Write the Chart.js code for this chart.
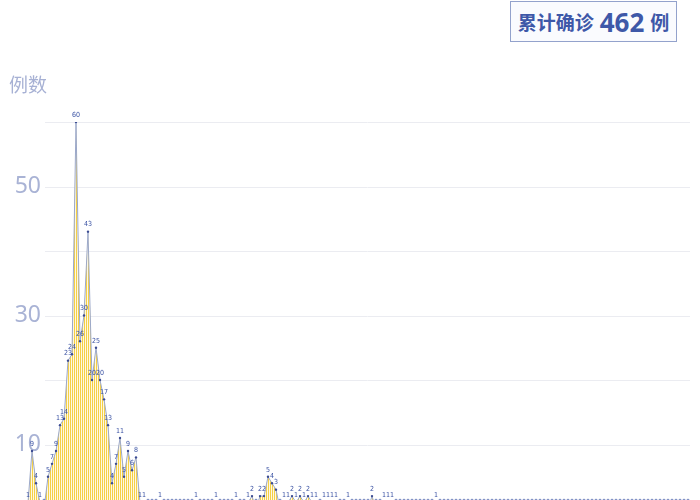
<!DOCTYPE html>
<html>
<head>
<meta charset="utf-8">
<script src="https://cdn.jsdelivr.net/npm/chart.js@4"></script>
<style>
  html, body { margin: 0; padding: 0; background: #fff; overflow: hidden; }
  #wrap { position: absolute; left: 0; top: 0; width: 700px; height: 520px; }
  #unit { position: absolute; left: 9px; top: 70px; font: 19px "Noto Sans CJK SC", sans-serif; color: #a7b1d4; }
  #total { position: absolute; left: 510px; top: 1px; width: 165px; height: 39px; border: 1.5px solid #93a2cc;
           background: #fafbfe; color: #3e58a8; font-family: "Noto Sans CJK SC", sans-serif; font-weight: bold;
           display: flex; align-items: center; justify-content: center; white-space: nowrap; }
  #total .t { font-size: 19px; }
  #total .n { font-size: 26px; margin: 0 6px 0 6px; font-family: "Noto Sans", sans-serif; font-weight: bold; }
</style>
</head>
<body>
<div id="wrap"><canvas id="chartCases"></canvas></div>
<div id="unit">例数</div>
<div id="total"><span class="t">累计确诊</span><span class="n">462</span><span class="t">例</span></div>
<script>
// daily new cases
const cases = [
  1, 9, 4, 1, 0, 5, 7, 9, 13, 14, 23, 24, 60, 26, 30, 43, 20, 25, 20, 17,
  13, 4, 7, 11, 5, 9, 6, 8, 1, 1, 0, 0, 0, 1, 0, 0, 0, 0, 0, 0,
  0, 0, 1, 0, 0, 0, 0, 1, 0, 0, 0, 0, 1, 0, 0, 1, 2, 0, 2, 2,
  5, 4, 3, 0, 1, 1, 2, 1, 2, 1, 2, 1, 1, 0, 1, 1, 1, 1, 0, 0,
  1, 0, 0, 0, 0, 0, 2, 0, 0, 1, 1, 1, 0, 0, 0, 0, 0, 0, 0, 0,
  0, 0, 1, 0, 0, 0, 0, 0, 0, 0, 0, 0, 0, 0, 0, 0, 0, 0, 0, 0,
  0, 0, 0, 0, 0, 0, 0, 0, 0, 0, 0, 0, 0, 0, 0, 0, 0, 0, 0, 0,
  0, 0, 0, 0, 0, 0, 0, 0, 0, 0, 0, 0, 0, 0, 0, 0, 0, 0, 0, 0,
  0, 0, 0, 0, 0, 0
];
const days = cases.map((v, i) => 'D' + (i + 1));
const gridValues = [10, 20, 30, 40, 50, 60];
const tickLabels = [10, 30, 50];

// striped yellow fill
const pc = document.createElement('canvas');
pc.width = 2; pc.height = 1;
const pctx = pc.getContext('2d');
pctx.fillStyle = '#f5d046'; pctx.fillRect(0, 0, 1, 1);
pctx.fillStyle = '#fef8e2'; pctx.fillRect(1, 0, 1, 1);

const ctx = document.getElementById('chartCases').getContext('2d');
const stripes = ctx.createPattern(pc, 'repeat');

const decor = {
    id: 'decor',
    beforeDatasetsDraw(chart) {
        const c = chart.ctx, y = chart.scales.y;
        c.save();
        c.strokeStyle = '#ebecf1';
        c.lineWidth = 1;
        gridValues.forEach(v => {
            const py = Math.round(y.getPixelForValue(v)) + 0.5;
            c.beginPath(); c.moveTo(45, py); c.lineTo(690, py); c.stroke();
        });
        c.fillStyle = '#a9b3d5';
        c.font = '23px "Noto Sans", sans-serif';
        c.textAlign = 'right';
        c.textBaseline = 'middle';
        tickLabels.forEach(v => c.fillText(String(v), 41, y.getPixelForValue(v)));
        c.restore();
    },
    afterDatasetsDraw(chart) {
        const c = chart.ctx, meta = chart.getDatasetMeta(0);
        c.save();
        c.fillStyle = '#3a52a3';
        c.font = '7px "DejaVu Sans Condensed", "Liberation Sans Narrow", sans-serif';
        c.textAlign = 'center';
        c.textBaseline = 'middle';
        meta.data.forEach((pt, i) => c.fillText(String(cases[i]), pt.x, pt.y - 7));
        c.restore();
    }
};

new Chart(ctx, {
    type: 'line',
    data: {
        labels: days,
        datasets: [{
            data: cases,
            borderColor: '#9ba8ca',
            borderWidth: 1,
            backgroundColor: stripes,
            fill: 'origin',
            tension: 0,
            pointRadius: 1.2,
            pointBackgroundColor: '#3b4b92',
            pointBorderWidth: 0
        }]
    },
    options: {
        responsive: true,
        maintainAspectRatio: false,
        animation: false,
        layout: { padding: { left: 28, right: 12, top: 122, bottom: 11 } },
        plugins: { legend: { display: false }, tooltip: { enabled: false } },
        scales: {
            x: { display: false },
            y: { display: false, min: 0, max: 60 }
        }
    },
    plugins: [decor]
});
</script>
</body>
</html>
